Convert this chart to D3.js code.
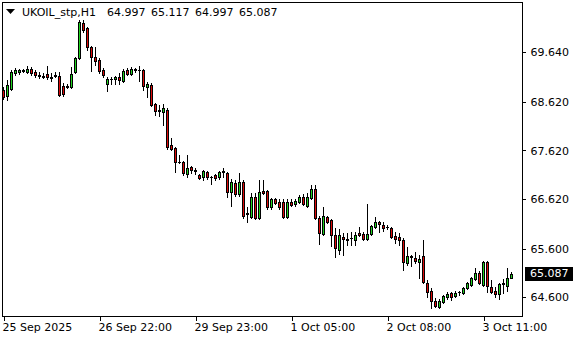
<!DOCTYPE html>
<html>
<head>
<meta charset="utf-8">
<script src="https://cdn.jsdelivr.net/npm/d3@7"></script>
<style>
  html, body { margin: 0; padding: 0; background: #fff; }
  #chart { width: 580px; height: 340px; }
</style>
</head>
<body>
<div id="chart"></div>
<script>
(function () {
  "use strict";

  var symbol = "UKOIL_stp,H1";
  var lastOHLC = ["64.997", "65.117", "64.997", "65.087"];

  var open = [
    68.87, 68.74, 68.89, 69.22, 69.24, 69.27, 69.24, 69.30, 69.24, 69.17,
    69.13, 69.19, 69.13, 69.15, 69.15, 68.95, 68.93, 68.93, 69.24, 69.52,
    70.24, 70.14, 69.75, 69.54, 69.48, 69.28, 68.99, 69.09, 69.09, 69.13,
    69.05, 69.28, 69.19, 69.28, 69.28, 69.28, 68.93, 68.97, 68.58, 68.45,
    68.41, 68.45, 67.73, 67.67, 67.39, 67.38, 67.14, 67.28, 67.21, 67.12,
    67.08, 67.18, 67.08, 67.12, 67.08, 67.19, 67.16, 66.77, 66.95, 66.73,
    66.97, 66.33, 66.25, 66.66, 66.23, 66.79, 66.79, 66.46, 66.62, 66.56,
    66.56, 66.25, 66.56, 66.52, 66.56, 66.66, 66.48, 66.64, 66.83, 66.23,
    65.90, 66.25, 66.19, 65.88, 65.57, 65.84, 65.80, 65.82, 65.78, 65.92,
    65.90, 65.80, 65.90, 66.05, 66.15, 66.09, 66.05, 66.03, 65.86, 65.84,
    65.78, 65.31, 65.44, 65.41, 65.33, 65.45, 64.89, 64.73, 64.52, 64.40,
    64.50, 64.61, 64.69, 64.63, 64.70, 64.69, 64.79, 64.85, 64.98, 65.10,
    64.85, 65.33, 64.81, 64.73, 64.67, 64.87, 64.83, 64.997
  ];
  var high = [
    68.93, 69.07, 69.28, 69.32, 69.30, 69.29, 69.36, 69.34, 69.28, 69.24,
    69.21, 69.36, 69.21, 69.24, 69.24, 69.01, 68.99, 69.34, 69.54, 70.31,
    70.31, 70.16, 69.77, 69.75, 69.52, 69.32, 69.13, 69.13, 69.15, 69.21,
    69.30, 69.32, 69.34, 69.32, 69.36, 69.30, 69.03, 69.01, 68.60, 68.56,
    68.58, 68.49, 67.88, 67.69, 67.53, 67.40, 67.53, 67.30, 67.26, 67.14,
    67.22, 67.20, 67.10, 67.14, 67.20, 67.26, 67.18, 67.03, 67.01, 67.16,
    67.01, 66.46, 66.75, 66.75, 67.01, 67.01, 66.81, 66.64, 66.64, 66.62,
    66.62, 66.62, 66.62, 66.62, 66.70, 66.72, 66.75, 66.91, 66.91, 66.27,
    66.46, 66.27, 66.21, 66.03, 66.01, 65.92, 65.92, 65.94, 65.94, 66.05,
    65.94, 66.52, 66.09, 66.25, 66.17, 66.15, 66.09, 66.05, 65.94, 65.92,
    65.82, 65.64, 65.47, 65.53, 65.47, 65.78, 64.96, 64.79, 64.59, 64.57,
    64.65, 64.71, 64.71, 64.73, 64.73, 64.81, 64.92, 65.02, 65.20, 65.14,
    65.35, 65.35, 64.96, 64.81, 64.89, 64.98, 65.20, 65.117
  ];
  var low = [
    68.68, 68.66, 68.87, 69.17, 69.19, 69.23, 69.22, 69.17, 69.13, 69.11,
    69.11, 69.09, 69.05, 69.13, 68.74, 68.74, 68.91, 68.91, 69.21, 69.50,
    70.06, 69.69, 69.26, 69.38, 69.21, 69.13, 68.85, 68.99, 68.99, 68.99,
    69.03, 69.17, 69.17, 69.24, 69.05, 68.87, 68.72, 68.54, 68.35, 68.33,
    68.15, 67.65, 67.63, 67.18, 67.36, 67.12, 67.08, 67.16, 67.14, 67.03,
    67.01, 67.03, 66.93, 67.01, 67.03, 67.08, 66.66, 66.48, 66.68, 66.68,
    66.23, 66.15, 66.23, 66.21, 66.21, 66.73, 66.42, 66.42, 66.52, 66.42,
    66.23, 66.23, 66.48, 66.48, 66.54, 66.50, 66.46, 66.62, 66.21, 65.70,
    65.88, 66.13, 65.66, 65.43, 65.49, 65.47, 65.68, 65.68, 65.68, 65.86,
    65.78, 65.78, 65.88, 66.03, 65.94, 65.96, 66.01, 65.82, 65.72, 65.68,
    65.16, 65.26, 65.24, 65.31, 65.00, 64.89, 64.61, 64.38, 64.40, 64.38,
    64.48, 64.57, 64.54, 64.61, 64.65, 64.67, 64.77, 64.83, 64.96, 64.87,
    64.83, 64.71, 64.69, 64.61, 64.57, 64.69, 64.73, 64.997
  ];
  var close = [
    68.72, 68.97, 69.24, 69.28, 69.28, 69.26, 69.30, 69.22, 69.17, 69.15,
    69.15, 69.13, 69.11, 69.17, 68.76, 68.78, 68.95, 69.19, 69.52, 70.26,
    70.10, 69.75, 69.54, 69.46, 69.26, 69.17, 69.09, 69.10, 69.13, 69.07,
    69.26, 69.19, 69.30, 69.29, 69.27, 68.95, 68.99, 68.56, 68.43, 68.44,
    68.50, 67.69, 67.65, 67.38, 67.38, 67.16, 67.26, 67.22, 67.20, 67.05,
    67.20, 67.08, 67.07, 67.05, 67.18, 67.18, 66.77, 66.97, 66.73, 66.97,
    66.27, 66.32, 66.66, 66.23, 66.77, 66.75, 66.46, 66.62, 66.54, 66.46,
    66.25, 66.56, 66.50, 66.58, 66.66, 66.52, 66.66, 66.83, 66.23, 65.92,
    66.27, 66.15, 65.88, 65.61, 65.88, 65.80, 65.77, 65.81, 65.88, 65.88,
    65.80, 65.90, 66.07, 66.15, 66.11, 66.03, 66.04, 65.84, 65.80, 65.78,
    65.33, 65.45, 65.43, 65.35, 65.39, 64.92, 64.71, 64.52, 64.42, 64.52,
    64.63, 64.67, 64.61, 64.69, 64.71, 64.79, 64.89, 65.00, 65.10, 64.89,
    65.33, 64.83, 64.71, 64.67, 64.87, 64.89, 65.00, 65.087
  ];

  var xTickBars   = [0, 24, 48, 72, 96, 120];
  var xTickLabels = ["25 Sep 2025", "26 Sep 22:00", "29 Sep 23:00", "1 Oct 05:00", "2 Oct 08:00", "3 Oct 11:00"];
  var yTicks      = [64.600, 65.600, 66.620, 67.620, 68.620, 69.640];
  var lastPrice   = 65.087;

  var BULL = "#1fd21f";
  var BEAR = "#dc0a0a";
  var INK  = "#000";
  var FONT = "'DejaVu Sans', Verdana, sans-serif";

  var W = 580, H = 340;
  var plot = { left: 2, top: 2, right: 522, bottom: 316 };

  var svg = d3.select("#chart").append("svg")
    .attr("width", W).attr("height", H)
    .style("font-family", FONT)
    .attr("shape-rendering", "crispEdges");

  var x = d3.scaleLinear().domain([0, open.length - 1]).range([3, 3 + 4 * (open.length - 1)]);
  var y = d3.scaleLinear().domain([64.6, 69.64]).range([297.3, 52.3]);

  // frame
  svg.append("rect")
    .attr("x", plot.left + 0.5).attr("y", plot.top + 0.5)
    .attr("width", plot.right - plot.left).attr("height", plot.bottom - plot.top)
    .attr("fill", "none").attr("stroke", INK);

  // candles
  var g = svg.append("g");
  open.forEach(function (o, i) {
    var c  = close[i];
    var cx = Math.round(x(i));
    var yh = Math.round(y(high[i]));
    var yl = Math.round(y(low[i]));
    var yt = Math.round(y(Math.max(o, c)));
    var yb = Math.round(y(Math.min(o, c)));

    g.append("rect").attr("x", cx).attr("y", yh)
      .attr("width", 1).attr("height", yl - yh + 1).attr("fill", INK);
    g.append("rect").attr("x", cx - 1).attr("y", yt)
      .attr("width", 3).attr("height", yb - yt + 1).attr("fill", INK);
    if (yb - yt > 1) {
      g.append("rect").attr("x", cx).attr("y", yt + 1)
        .attr("width", 1).attr("height", yb - yt - 1)
        .attr("fill", c >= o ? BULL : BEAR);
    }
  });

  // price axis
  svg.append("g")
    .attr("transform", "translate(" + (plot.right + 0.5) + ",0)")
    .call(d3.axisRight(y).tickValues(yTicks).tickSize(3).tickPadding(5).tickFormat(d3.format(".3f")))
    .call(function (a) {
      a.select(".domain").remove();
      a.selectAll(".tick line").attr("stroke", INK);
      a.selectAll(".tick text").attr("fill", INK).attr("font-size", "11px").attr("font-family", FONT);
    });

  // time axis
  svg.append("g")
    .attr("transform", "translate(0," + (plot.bottom + 0.5) + ")")
    .call(d3.axisBottom(x).tickValues(xTickBars).tickSize(4).tickPadding(3)
      .tickFormat(function (d, i) { return xTickLabels[i]; }))
    .call(function (a) {
      a.select(".domain").remove();
      a.selectAll(".tick line").attr("stroke", INK).attr("transform", "translate(0.5,0)");
      a.selectAll(".tick text").attr("fill", INK).attr("font-size", "11px")
        .attr("font-family", FONT).attr("text-anchor", "start").attr("dx", "-1");
    });

  // last price marker
  var ly = y(lastPrice);
  svg.append("rect")
    .attr("x", plot.right + 3).attr("y", Math.round(ly) - 7)
    .attr("width", 48).attr("height", 14).attr("fill", INK);
  svg.append("text")
    .attr("x", plot.right + 8).attr("y", ly).attr("dy", "0.35em")
    .attr("fill", "#fff").attr("font-size", "11px")
    .text(d3.format(".3f")(lastPrice));

  // header
  svg.append("path").attr("d", "M6,9 L15,9 L10.5,14 Z").attr("fill", INK)
    .attr("shape-rendering", "auto");
  svg.append("text")
    .attr("x", 22).attr("y", 16)
    .attr("fill", "#000").attr("font-size", "11px")
    .text(symbol);
  svg.append("text")
    .attr("x", 107).attr("y", 16)
    .attr("fill", "#000").attr("font-size", "11px")
    .attr("word-spacing", "2px")
    .text(lastOHLC.join(" "));
}());
</script>
</body>
</html>
